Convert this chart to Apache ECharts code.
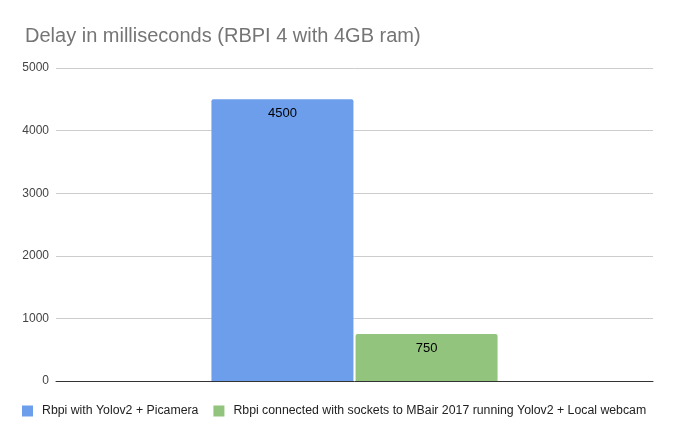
<!DOCTYPE html>
<html><head><meta charset="utf-8">
<script src="https://cdn.jsdelivr.net/npm/echarts@6/dist/echarts.min.js"></script>
<style>html,body{margin:0;padding:0;background:#fff}#c{width:674px;height:439px}</style>
</head><body><div id="c"></div>
<script>
const categories = [''];
const seriesNames = ['Rbpi with Yolov2 + Picamera', 'Rbpi connected with sockets to MBair 2017 running Yolov2 + Local webcam'];
const seriesA = [4500];
const seriesB = [750];
const yTicks = [0, 1000, 2000, 3000, 4000, 5000];
const colors = ['#6d9eeb', '#93c47d'];

const font = "'Liberation Sans', Arial, sans-serif";
const chart = echarts.init(document.getElementById('c'));
const label = {show: true, position: 'insideTop', distance: 8, color: '#000', fontSize: 13, fontFamily: font};
chart.setOption({
  animation: false,
  title: {text: 'Delay in milliseconds (RBPI 4 with 4GB ram)', left: 20, top: 21,
    textStyle: {color: '#757575', fontSize: 20, fontWeight: 'normal', fontFamily: font}},
  legend: {left: 17, bottom: 17, itemWidth: 11, itemHeight: 11, itemGap: 15, icon: 'rect',
    textStyle: {color: '#222', fontSize: 12.3, fontFamily: font, padding: [0, 0, 0, 4]}},
  grid: {left: 56, right: 21, top: 68, bottom: 58},
  xAxis: {type: 'category', data: categories, axisTick: {show: false},
    axisLine: {lineStyle: {color: '#333', width: 1}}, axisLabel: {show: false}},
  yAxis: {type: 'value', min: yTicks[0], max: yTicks[yTicks.length - 1], interval: 1000,
    axisLabel: {color: '#444', fontSize: 12, fontFamily: font, margin: 7, formatter: v => String(v)},
    splitLine: {lineStyle: {color: '#ccc'}}, axisLine: {show: false}, axisTick: {show: false}},
  series: [
    {name: seriesNames[0], type: 'bar', data: seriesA, barWidth: 142, barGap: '1.5%',
     itemStyle: {color: colors[0], borderRadius: [2, 2, 0, 0]}, label: label},
    {name: seriesNames[1], type: 'bar', data: seriesB, barWidth: 142,
     itemStyle: {color: colors[1], borderRadius: [2, 2, 0, 0]}, label: label}
  ]
});
</script></body></html>
